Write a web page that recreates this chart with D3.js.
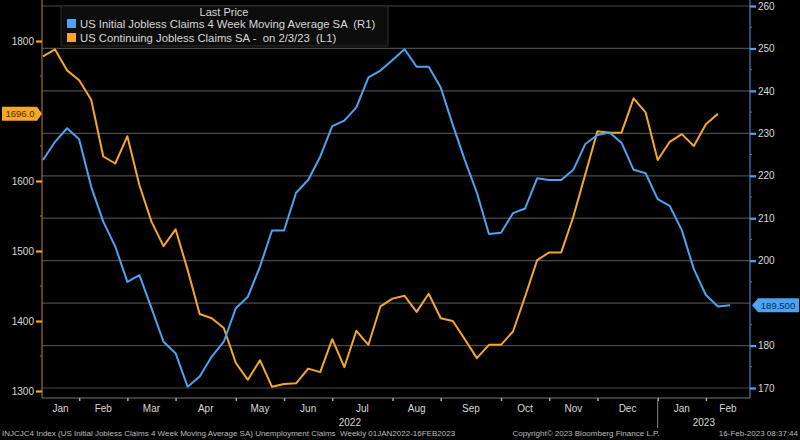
<!DOCTYPE html>
<html><head><meta charset="utf-8">
<script src="https://cdn.jsdelivr.net/npm/d3@7"></script>
<style>
body{margin:0;background:#000;}
svg{display:block;}
text{font-family:"Liberation Sans",Arial,sans-serif;white-space:pre;}
</style>
</head><body>
<svg id="c" width="800" height="440"></svg>
<script>
// ---- data (weekly, week ending Saturday) ----
const firstWeek = "2022-01-08";
const lastWeek = "2023-02-11";
// US Continuing Jobless Claims SA (thousands, left axis), Jan 8 2022 .. Feb 4 2023
const continuingClaims = [1778,1788,1758,1744,1716,1635,1625,1664,1594,1542,1507,1531,1473,1410,1404,1390,
  1340,1316,1344,1306,1310,1311,1332,1327,1374,1334,1386,1366,1421,1432,1436,1413,1439,1404,1400,1374,1347,
  1366,1366,1385,1435,1487,1498,1498,1549,1610,1671,1669,1669,1718,1698,1630,1656,1667,1650,1681,1696];
// US Initial Jobless Claims 4 Week Moving Average SA (thousands, right axis), Jan 8 2022 .. Feb 11 2023
const initialClaims4wk = [223.7,228.0,231.2,228.6,217.4,209.2,203.3,195.0,196.6,188.8,180.9,178.2,170.3,172.7,
  177.4,180.9,188.8,191.5,198.6,207.1,207.1,216.0,219.0,224.5,231.7,233.0,236.1,243.2,244.8,247.3,249.8,245.7,
  245.7,240.8,232.0,223.7,216.0,206.3,206.6,211.2,212.3,219.4,219.0,219.0,221.4,227.5,229.6,230.2,227.8,221.4,
  220.6,214.5,212.9,207.2,198.0,191.9,189.2,189.5];
const monthLabels = ["Jan","Feb","Mar","Apr","May","Jun","Jul","Aug","Sep","Oct","Nov","Dec","Jan","Feb"];
const yearLabels = ["2022","2023"];
const leftTicks = [1300,1400,1500,1600,1700,1800];
const leftMinor = [1350,1450,1550,1650,1750];
const rightTicks = [170,180,190,200,210,220,230,240,250,260];
const rightMinor = [175,185,195,205,215,225,235,245,255];
const lastContinuing = 1696.0;
const lastInitial = 189.5;
const legendTitle = "Last Price";
const seriesNames = ["US Initial Jobless Claims 4 Week Moving Average SA  (R1)",
                     "US Continuing Jobless Claims SA -  on 2/3/23  (L1)"];
const footerLeft = "INJCJC4 Index (US Initial Jobless Claims 4 Week Moving Average SA) Unemployment Claims  Weekly 01JAN2022-16FEB2023";
const footerMid = "Copyright\u00A9 2023 Bloomberg Finance L.P.";
const footerRight = "16-Feb-2023 08:37:44";

// ---- layout ----
const BLUE = "#4ba3f2", ORANGE = "#f6a62a";
const L = 42, R = 750, T = 0, B = 398;
const svg = d3.select("#c");
svg.append("rect").attr("width",800).attr("height",440).attr("fill","#000");

const parse = d3.utcParse("%Y-%m-%d");
const weeks = d3.utcSaturday.range(parse(firstWeek), d3.utcDay.offset(parse(lastWeek),1));
const x = d3.scaleUtc().domain([weeks[0], weeks[weeks.length-1]]).range([43, 730]);
const yL = d3.scaleLinear().domain([1300,1850]).range([391,6]);
const yR = d3.scaleLinear().domain([170,260]).range([388,6]);

// gridlines
svg.append("g").selectAll("line").data(rightTicks).join("line")
  .attr("x1",L).attr("x2",R).attr("y1",d=>yR(d)).attr("y2",d=>yR(d))
  .attr("stroke","#4a4a4a").attr("stroke-width",1.2);

// axes lines
svg.append("line").attr("x1",L).attr("x2",L).attr("y1",T).attr("y2",B).attr("stroke","#9a6f30").attr("stroke-width",1.2);
svg.append("line").attr("x1",R).attr("x2",R).attr("y1",T).attr("y2",B).attr("stroke","#3f7fc6").attr("stroke-width",1.2);
svg.append("line").attr("x1",L).attr("x2",R).attr("y1",B).attr("y2",B).attr("stroke","#777").attr("stroke-width",1.2);

// left axis
const gL = svg.append("g").attr("transform",`translate(${L},0)`)
  .call(d3.axisLeft(yL).tickValues(leftTicks.filter(v=>Math.abs(yL(v)-yL(lastContinuing))>10)).tickSize(6).tickPadding(2).tickFormat(d3.format("d")));
gL.select(".domain").remove();
gL.selectAll(".tick line").attr("stroke",ORANGE).attr("stroke-width",2.2);
gL.selectAll(".tick text").attr("fill","#d8d8d8").attr("font-size",10).attr("font-family","Liberation Sans, Arial, sans-serif");
svg.append("g").selectAll("line").data(leftMinor).join("line")
  .attr("x1",L-2).attr("x2",L).attr("y1",d=>yL(d)).attr("y2",d=>yL(d)).attr("stroke","#9a6f30");

// right axis
const gR = svg.append("g").attr("transform",`translate(${R},0)`)
  .call(d3.axisRight(yR).tickValues(rightTicks.filter(v=>Math.abs(yR(v)-yR(lastInitial))>10)).tickSize(6).tickPadding(2).tickFormat(d3.format("d")));
gR.select(".domain").remove();
gR.selectAll(".tick line").attr("stroke",BLUE).attr("stroke-width",2.2);
gR.selectAll(".tick text").attr("fill","#d8d8d8").attr("font-size",10).attr("font-family","Liberation Sans, Arial, sans-serif");
svg.append("g").selectAll("line").data(rightMinor).join("line")
  .attr("x1",R).attr("x2",R+2).attr("y1",d=>yR(d)).attr("y2",d=>yR(d)).attr("stroke","#3f7fc6");

// x axis: boundaries at last weekly point on/before each month start
const monthStarts = d3.utcMonth.range(d3.utcMonth.ceil(weeks[0]), d3.utcMonth.offset(d3.utcMonth.floor(weeks[weeks.length-1]),1));
const bounds = monthStarts.map(m => d3.utcSaturday.floor(m));
const gX = svg.append("g").attr("transform",`translate(0,${B})`)
  .call(d3.axisBottom(x).tickValues(bounds).tickSize(3).tickFormat(""));
gX.select(".domain").remove();
gX.selectAll(".tick line").attr("stroke","#aaa").attr("stroke-width",1.5);
const edges = [L, ...bounds.map(d=>x(d)), R];
svg.append("g").selectAll("text").data(monthLabels).join("text")
  .attr("x",(d,i)=>(edges[i]+edges[i+1])/2).attr("y",412)
  .attr("text-anchor","middle").attr("fill","#d8d8d8").attr("font-size",10).text(d=>d);
const yearSplit = x(bounds.find(d=>d.getUTCFullYear()===2022 && d.getUTCMonth()===11));
svg.append("line").attr("x1",yearSplit).attr("x2",yearSplit).attr("y1",400).attr("y2",428).attr("stroke","#888").attr("stroke-width",1);
svg.append("text").attr("x",(L+yearSplit)/2).attr("y",426).attr("text-anchor","middle").attr("fill","#d8d8d8").attr("font-size",10).text(yearLabels[0]);
svg.append("text").attr("x",(yearSplit+R)/2).attr("y",426).attr("text-anchor","middle").attr("fill","#d8d8d8").attr("font-size",10).text(yearLabels[1]);

// lines
const lineL = d3.line().x((d,i)=>x(weeks[i])).y(d=>yL(d));
const lineR = d3.line().x((d,i)=>x(weeks[i])).y(d=>yR(d));
svg.append("path").datum(continuingClaims).attr("d",lineL).attr("fill","none").attr("stroke",ORANGE).attr("stroke-width",2).attr("stroke-linejoin","round");
svg.append("path").datum(initialClaims4wk).attr("d",lineR).attr("fill","none").attr("stroke",BLUE).attr("stroke-width",2).attr("stroke-linejoin","round");

// legend
const lg = svg.append("g");
lg.append("rect").attr("x",61).attr("y",6).attr("width",327).attr("height",40).attr("fill","#0d0d0d").attr("stroke","#2e2e2e");
lg.append("text").attr("x",224).attr("y",16).attr("text-anchor","middle").attr("fill","#d8d8d8").attr("font-size",11).text(legendTitle);
[BLUE, ORANGE].forEach((c,i)=>{
  lg.append("rect").attr("x",67).attr("y",19+i*14).attr("width",9).attr("height",9).attr("fill",c);
  lg.append("text").attr("x",80).attr("y",28+i*14).attr("fill","#d8d8d8").attr("font-size",11.3).text(seriesNames[i]);
});

// last price labels
const yo = yL(lastContinuing);
svg.append("path").attr("d",`M2,${yo-7}H37L42,${yo}L37,${yo+7}H2Z`).attr("fill",ORANGE);
svg.append("text").attr("x",20).attr("y",yo+3.5).attr("text-anchor","middle").attr("fill","#4a3000").attr("font-size",9.5).text(d3.format(".1f")(lastContinuing));
const yb = yR(lastInitial);
svg.append("path").attr("d",`M752,${yb}L758,${yb-7}H799V${yb+7}H758Z`).attr("fill",BLUE);
svg.append("text").attr("x",778).attr("y",yb+3.5).attr("text-anchor","middle").attr("fill","#0a2a55").attr("font-size",9.5).text(d3.format(".3f")(lastInitial));

// footer
svg.append("text").attr("x",2).attr("y",436).attr("fill","#bbb").attr("font-size",8).text(footerLeft);
svg.append("text").attr("x",586).attr("y",436).attr("text-anchor","middle").attr("fill","#bbb").attr("font-size",8).text(footerMid);
svg.append("text").attr("x",798).attr("y",436).attr("text-anchor","end").attr("fill","#bbb").attr("font-size",8).text(footerRight);
</script>
</body></html>
